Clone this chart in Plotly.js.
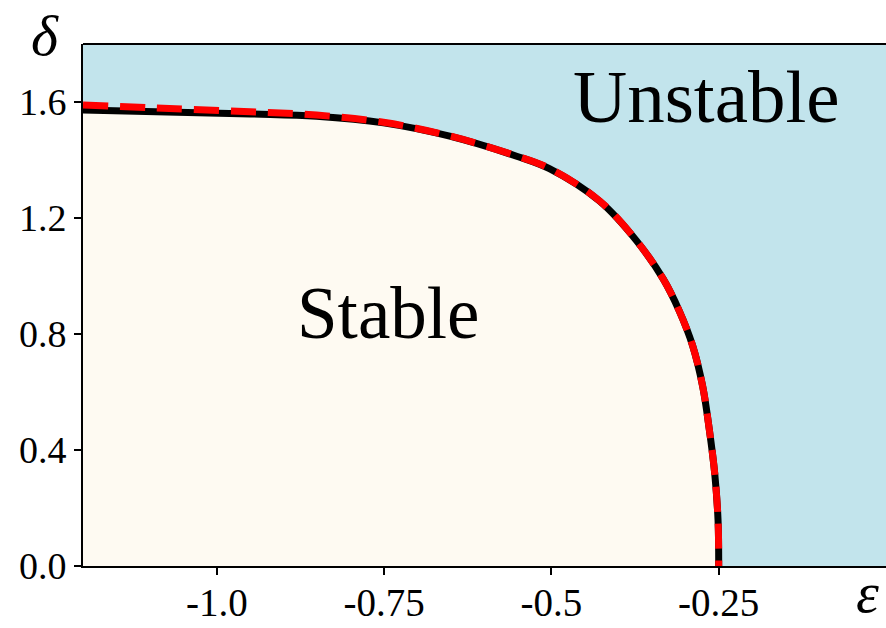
<!DOCTYPE html>
<html>
<head>
<meta charset="utf-8">
<script src="https://cdn.plot.ly/plotly-3.0.1.min.js"></script>
<style>
  html, body { margin: 0; padding: 0; background: #ffffff; }
  #chart { width: 886px; height: 628px; }
</style>
</head>
<body>
<div id="chart"></div>
<script>
// Stability boundary in the (epsilon, delta) plane
const epsBoundary   = [-1.2, -0.95, -0.851, -0.751, -0.652, -0.552, -0.503, -0.428, -0.373, -0.333, -0.309, -0.289, -0.274, -0.264, -0.256, -0.251, -0.25];
const deltaBoundary = [1.572, 1.559, 1.551, 1.528, 1.482, 1.413, 1.370, 1.258, 1.122, 0.990, 0.880, 0.760, 0.620, 0.470, 0.320, 0.158, 0.0];

// Approximate boundary (dashed)
const epsApprox   = [-1.2, -1.1, -0.95, -0.851, -0.751, -0.652, -0.552, -0.503, -0.428, -0.373, -0.333, -0.309, -0.289, -0.274, -0.264, -0.256, -0.251, -0.25];
const deltaApprox = [1.590, 1.580, 1.566, 1.555, 1.530, 1.483, 1.414, 1.371, 1.259, 1.122, 0.990, 0.880, 0.760, 0.620, 0.470, 0.320, 0.158, 0.0];

const xTickVals = [-1.0, -0.75, -0.5, -0.25];
const xTickText = ['-1.0', '-0.75', '-0.5', '-0.25'];
const yTickVals = [0.0, 0.4, 0.8, 1.2, 1.6];
const yTickText = ['0.0', '0.4', '0.8', '1.2', '1.6'];

const regionLabels = ['Stable', 'Unstable'];

const blueBg = '#c2e4ec';
const cream = '#fefaf2';
const serif = 'Liberation Serif, DejaVu Serif, serif';

const traces = [
  {
    x: epsBoundary, y: deltaBoundary,
    type: 'scatter', mode: 'lines',
    fill: 'tozeroy', fillcolor: cream,
    line: { width: 0, color: cream, shape: 'spline', smoothing: 1 },
    hoverinfo: 'skip', showlegend: false
  },
  {
    x: epsBoundary, y: deltaBoundary,
    type: 'scatter', mode: 'lines',
    line: { color: '#000000', width: 7, shape: 'spline', smoothing: 1 },
    showlegend: false
  },
  {
    x: epsApprox, y: deltaApprox,
    type: 'scatter', mode: 'lines',
    line: { color: '#ff0000', width: 7, dash: '25px,12px', shape: 'spline', smoothing: 1 },
    showlegend: false
  }
];

const layout = {
  width: 886, height: 628,
  margin: { l: 83, r: 0, t: 44, b: 62 },
  paper_bgcolor: '#ffffff',
  plot_bgcolor: blueBg,
  showlegend: false,
  xaxis: {
    range: [-1.2, 0.0],
    tickvals: xTickVals, ticktext: xTickText,
    ticks: 'outside', ticklen: 7, tickwidth: 2, tickcolor: '#000',
    ticklabelstandoff: -6,
    showline: true, linecolor: '#000', linewidth: 2,
    showgrid: false, zeroline: false,
    tickfont: { family: serif, size: 39, color: '#000' }
  },
  yaxis: {
    range: [0, 1.8],
    tickvals: yTickVals, ticktext: yTickText,
    ticks: 'outside', ticklen: 7, tickwidth: 2, tickcolor: '#000',
    showline: true, linecolor: '#000', linewidth: 2,
    showgrid: false, zeroline: false,
    tickfont: { family: serif, size: 38, color: '#000' }
  },
  shapes: [
    { type: 'line', xref: 'paper', yref: 'paper', x0: 0, x1: 1, y0: 1, y1: 1,
      line: { color: '#000', width: 2 } }
  ],
  annotations: [
    { text: regionLabels[0], x: -0.744, y: 0.869, xref: 'x', yref: 'y',
      showarrow: false, xanchor: 'center', yanchor: 'middle',
      font: { family: serif, size: 73, color: '#000' } },
    { text: regionLabels[1], x: -0.268, y: 1.619, xref: 'x', yref: 'y',
      showarrow: false, xanchor: 'center', yanchor: 'middle',
      font: { family: serif, size: 75, color: '#000' } },
    { text: '<i>δ</i>', showarrow: false, xanchor: 'center', yanchor: 'top',
      xref: 'paper', yref: 'paper', font: { family: serif, size: 58, color: '#000' } },
    { text: '<i>ε</i>', showarrow: false, xanchor: 'center', yanchor: 'bottom',
      xref: 'paper', yref: 'paper', font: { family: serif, size: 58, color: '#000' } }
  ]
};

// place the axis symbols in pixel terms relative to the plot area
const plotW = 886 - 83, plotH = 628 - 44 - 62;
layout.annotations[2].x = (45 - 83) / plotW;
layout.annotations[2].y = (628 - 62 - 1) / plotH;
layout.annotations[3].x = (867 - 83) / plotW;
layout.annotations[3].y = (628 - 62 - 627) / plotH;

Plotly.newPlot('chart', traces, layout, { staticPlot: true, displayModeBar: false });
</script>
</body>
</html>
